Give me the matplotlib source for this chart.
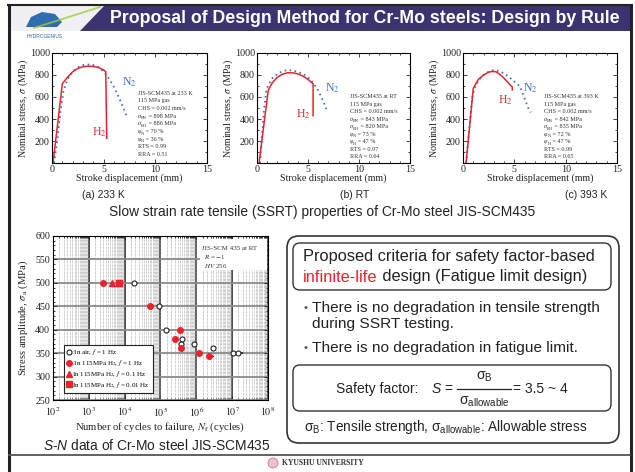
import numpy as np
import matplotlib
matplotlib.use("Agg")
import matplotlib.pyplot as plt
from matplotlib.patches import Rectangle, FancyBboxPatch, Polygon, Circle
from matplotlib.lines import Line2D
from matplotlib.ticker import MultipleLocator, LogLocator, NullFormatter

# ---- SSRT curves: stroke displacement (mm) vs nominal stress (MPa) ----
# (a) 233 K
h2_x_a = [0.1, 1.0, 1.5, 2.0, 2.5, 3.0, 3.5, 4.0, 4.5, 5.0, 5.2, 5.3]
h2_y_a = [0, 720, 780, 830, 860, 875, 880, 878, 868, 845, 830, 225]
n2_x_a = [0.2, 0.5, 0.8, 1.1, 1.5, 2.0, 2.5, 3.0, 3.5, 4.0, 4.5, 5.0, 5.5, 6.0, 6.5, 7.0, 7.2]
n2_y_a = [0, 200, 450, 650, 760, 830, 870, 890, 895, 890, 870, 830, 770, 690, 590, 480, 430]
# (b) RT
h2_x_b = [0.2, 1.1, 1.5, 2.0, 2.5, 3.0, 3.5, 4.0, 4.5, 5.0, 5.5, 5.5]
h2_y_b = [0, 660, 730, 780, 808, 820, 820, 810, 790, 760, 720, 430]
n2_x_b = [0.3, 0.5, 0.7, 0.9, 1.1, 1.5, 2.0, 2.5, 3.0, 3.5, 4.0, 4.5, 5.0, 5.5, 6.0, 6.5, 6.8]
n2_y_b = [0, 250, 500, 650, 710, 770, 810, 835, 845, 840, 830, 810, 780, 730, 660, 560, 490]
# (c) 393 K
h2_x_c = [0.3, 1.0, 1.5, 2.0, 2.5, 2.8, 3.2, 3.6, 4.0, 4.4, 4.8, 4.8]
h2_y_c = [0, 680, 760, 800, 825, 832, 830, 805, 770, 730, 690, 665]
n2_x_c = [0.3, 0.6, 0.9, 1.2, 1.6, 2.0, 2.5, 3.0, 3.5, 4.0, 4.5, 5.0, 5.5, 5.8, 6.1, 6.4, 6.6]
n2_y_c = [0, 300, 600, 700, 760, 800, 830, 845, 835, 815, 780, 740, 700, 640, 560, 490, 460]

temps = ["233 K", "RT", "393 K"]
captions = ["(a) 233 K", "(b) RT", "(c) 393 K"]
sigma_bn = [898, 843, 842]
sigma_bh = [886, 820, 835]
phi_n = [70, 73, 72]
phi_h = [36, 47, 47]
rts = [0.99, 0.97, 0.99]
rra = [0.51, 0.64, 0.65]

# ---- S-N data (cycles, stress amplitude MPa) ----
air_n = [1.86e4, 8.9e4, 1.39e5, 3.98e5, 3.81e5, 8.6e5, 2.9e6, 1.05e7, 1.45e7]
air_s = [500, 450, 400, 380, 370, 370, 360, 350, 350]
h2_1hz_n = [2.5e3, 5.1e4, 3.57e5, 2.54e5, 3.81e5, 1.16e6, 2.25e6]
h2_1hz_s = [500, 450, 400, 380, 360, 350, 343]
h2_01hz_n = [4.4e3]
h2_01hz_s = [500]
h2_001hz_n = [7.0e3]
h2_001hz_s = [500]
runout_n = [2.25e6, 1.05e7, 1.45e7]
runout_s = [343, 350, 350]

W, H = 635, 472
SANS = ["Liberation Sans", "DejaVu Sans"]
TXT = "#222222"
RED = "#e8232b"
BLUE = "#3c6fc0"

plt.rcParams["font.family"] = "serif"
plt.rcParams["font.serif"] = ["Liberation Serif", "DejaVu Serif"]
plt.rcParams["mathtext.fontset"] = "stix"
plt.rcParams["mathtext.rm"] = "Liberation Sans"
plt.rcParams["mathtext.it"] = "Liberation Sans:italic"
plt.rcParams["mathtext.bf"] = "Liberation Sans:bold"

fig = plt.figure(figsize=(W / 100, H / 100), dpi=100)
ax0 = fig.add_axes([0, 0, 1, 1])
ax0.set_xlim(0, W)
ax0.set_ylim(H, 0)
ax0.axis("off")


def px_axes(l, t, r, b):
    return fig.add_axes([l / W, 1 - b / H, (r - l) / W, (b - t) / H])


# ---- slide frame and title bar ----
ax0.plot([8.5, 8.5], [5, H], color="#222", lw=2.2)
ax0.plot([630.5, 630.5], [5, H], color="#222", lw=2.2)
ax0.plot([8, 631], [5, 5], color="#222", lw=1.5)
ax0.plot([9, 630], [455, 455], color="#555", lw=1.3)
ax0.add_patch(Rectangle((9, 6), 621, 25, fc="#3b3471", ec="none"))
ax0.add_patch(Polygon([(9, 6), (104, 6), (80, 31), (9, 31)], fc="#f0f0f4", ec="none"))
ax0.plot([34, 100], [28, 7], color="#9acd32", lw=1.3, alpha=0.8)
ax0.add_patch(Polygon([(26, 27), (31, 17), (42, 12), (55, 14), (62, 22), (57, 27)],
                      fc="#2f6db0", ec="none"))
ax0.text(45, 37, "HYDROGENIUS", family=SANS, size=3.5, color="#3060a0", ha="center", va="center")
ax0.text(365, 18.5, "Proposal of Design Method for Cr-Mo steels: Design by Rule",
         family=SANS, size=12.8, weight="bold", color="white", ha="center", va="center")

# ---- SSRT panels ----
panels = [
    ((52, 53, 207, 163), h2_x_a, h2_y_a, n2_x_a, n2_y_a, (8.3, 636, 70), (3.9, 282), (6.8, 736), 103),
    ((257, 53, 410, 163), h2_x_b, h2_y_b, n2_x_b, n2_y_b, (9.1, 600, 68), (3.8, 445), (6.7, 682), 355),
    ((463, 53, 617, 163), h2_x_c, h2_y_c, n2_x_c, n2_y_c, (7.9, 600, 68), (3.4, 570), (5.8, 680), 586),
]
sym_lines = []   # (axes, px width, symbol text, subscript text, rest text)
for i, (box, hx, hy, nx, ny, txy, hlab, nlab, cap_x) in enumerate(panels):
    l, t, r, b = box
    ax = px_axes(l, t, r, b)
    ax.plot(nx, ny, color=BLUE, lw=1.3, ls=(0, (0.9, 1.9)))
    ax.plot(hx, hy, color=RED, lw=1.1)
    ax.set_xlim(0, 15)
    ax.set_ylim(0, 1000)
    ax.set_xticks([0, 5, 10, 15])
    ax.set_yticks([200, 400, 600, 800, 1000])
    ax.xaxis.set_minor_locator(MultipleLocator(1))
    ax.yaxis.set_minor_locator(MultipleLocator(100))
    ax.tick_params(which="both", direction="in", top=True, right=True, labelsize=7.2,
                   pad=1.5, width=0.6, colors=TXT)
    ax.tick_params(which="major", length=3)
    ax.tick_params(which="minor", length=1.5)
    for sp in ax.spines.values():
        sp.set_linewidth(0.8)
    ax.set_xlabel("Stroke displacement (mm)", fontsize=7.2, color=TXT, va="center")
    ax.xaxis.set_label_coords(0.5, -15 / (b - t))
    ax.set_ylabel(r"Nominal stress, $\sigma$ (MPa)", fontsize=7.2, color=TXT, va="center")
    ax.yaxis.set_label_coords(-29 / (r - l), 0.5)
    ax.text(hlab[0], hlab[1], r"H$_2$", color=RED, fontsize=8.5, va="center")
    ax.text(nlab[0], nlab[1], r"N$_2$", color=BLUE, fontsize=8.5, va="center")

    # condition block: plain lines, symbols with a hand-placed subscript
    info = [("", "", "JIS-SCM435 at " + temps[i]), ("", "", "115 MPa gas"),
            ("", "", "CHS = 0.002 mm/s"),
            ("\u03c3", "BN", " = %d MPa" % sigma_bn[i]),
            ("\u03c3", "BH", " = %d MPa" % sigma_bh[i]),
            ("\u03c6", "N", " = %d %%" % phi_n[i]),
            ("\u03c6", "H", " = %d %%" % phi_h[i]),
            ("", "", "RTS = %.2f" % rts[i]), ("", "", "RRA = %.2f" % rra[i])]
    for k, (sym, sub, rest) in enumerate(info):
        y = txy[1] - k * txy[2]
        if not sym:
            ax.text(txy[0], y, rest, fontsize=4.4, color="#333", va="center")
            continue
        ts = ax.text(txy[0], y, sym, fontsize=4.4, style="italic", color="#333", va="center")
        tb = ax.text(txy[0], y - 18, sub, fontsize=3.1, color="#333", va="center")
        tr = ax.text(txy[0], y, rest, fontsize=4.4, color="#333", va="center")
        sym_lines.append((ax, r - l, txy[0], ts, tb, tr))
    ax0.text(cap_x, 195, captions[i], family=SANS, size=7.5, color=TXT, ha="center", va="center")

ax0.text(322, 212, "Slow strain rate tensile (SSRT) properties of Cr-Mo steel JIS-SCM435",
         family=SANS, size=9.9, color=TXT, ha="center", va="center")

# ---- S-N panel ----
l, t, r, b = 53, 236, 268, 400
ax = px_axes(l, t, r, b)
ax.set_xscale("log")
ax.set_xlim(1e2, 1e8)
ax.set_ylim(250, 600)
ax.set_yticks(np.arange(250, 601, 50))
ax.set_xticks([10.0 ** k for k in range(2, 9)])
ax.set_xticklabels([r"$10^{%d}$" % k for k in range(2, 9)])
ax.xaxis.set_minor_locator(LogLocator(base=10, subs=np.arange(1.5, 10, 0.5), numticks=100))
ax.xaxis.set_minor_formatter(NullFormatter())
ax.yaxis.set_minor_locator(MultipleLocator(10))
ax.grid(True, which="minor", axis="x", color="#999999", lw=0.5, ls=(0, (1, 1)))
ax.grid(True, which="major", axis="x", color="#4a4a4a", lw=1.4)
ax.grid(True, which="major", axis="y", color="#8a8a8a", lw=1.3)
ax.set_axisbelow(True)
ax.tick_params(which="both", direction="in", top=True, right=True, labelsize=7.2,
               pad=2, width=0.6, colors=TXT)
ax.tick_params(axis="x", which="both", pad=4)
ax.tick_params(which="major", length=3)
ax.tick_params(which="minor", length=1.5)
for sp in ax.spines.values():
    sp.set_linewidth(0.8)

ax.add_patch(Rectangle((0.685, 0.79), 0.31, 0.19, transform=ax.transAxes,
                       fc="white", ec="none", zorder=1))
ax.text(0.695, 0.925, "JIS-SCM 435 at RT", transform=ax.transAxes, fontsize=5, color="#333", va="center", zorder=2)
ax.text(0.70, 0.87, r"$R$ = $-$1", transform=ax.transAxes, fontsize=5, color="#333", va="center", zorder=2)
ax.text(0.70, 0.815, r"$HV$ 256", transform=ax.transAxes, fontsize=5, color="#333", va="center", zorder=2)

for n, s in zip(runout_n, runout_s):
    ax.annotate("", xy=(n * 1.65, s), xytext=(n * 1.1, s),
                arrowprops=dict(arrowstyle="-|>", color="#222", lw=0.8, mutation_scale=5), zorder=3)
ax.plot(air_n, air_s, "o", mfc="white", mec="#222", mew=0.8, ms=3.6, zorder=4)
ax.plot(h2_1hz_n, h2_1hz_s, "o", color=RED, ms=4, zorder=4)
ax.plot(h2_01hz_n, h2_01hz_s, "^", color=RED, ms=4, zorder=4)
ax.plot(h2_001hz_n, h2_001hz_s, "s", color=RED, ms=4, zorder=4)

handles = [Line2D([], [], marker="o", ls="none", mfc="white", mec="#222", mew=0.8, ms=3.6),
           Line2D([], [], marker="o", ls="none", color=RED, ms=4),
           Line2D([], [], marker="^", ls="none", color=RED, ms=4),
           Line2D([], [], marker="s", ls="none", color=RED, ms=4)]
labels = [r":In air, $f$ = 1 Hz", r":In 115MPa H$_2$, $f$ = 1 Hz",
          r"In 115MPa H$_2$, $f$ = 0.1 Hz", r"In 115MPa H$_2$, $f$ = 0.01 Hz"]
leg = ax.legend(handles, labels, loc="lower left", bbox_to_anchor=(0.05, 0.045),
                prop={"size": 5}, fancybox=False, edgecolor="#222", framealpha=1,
                borderpad=0.4, labelspacing=0.12, handlelength=0.7, handletextpad=0.15,
                borderaxespad=0)
leg.get_frame().set_linewidth(0.8)
leg.set_zorder(5)

ax.set_xlabel(r"Number of cycles to failure, $N_{\rm f}$ (cycles)", fontsize=7.7, color=TXT, va="center")
ax.xaxis.set_label_coords(0.5, -27 / (b - t))
ax.set_ylabel(r"Stress amplitude, $\sigma_{\rm a}$ (MPa)", fontsize=7.7, color=TXT, va="center")
ax.yaxis.set_label_coords(-30 / (r - l), 0.5)

ax0.text(157, 445, r"$S$-$N$ data of Cr-Mo steel JIS-SCM435", family=SANS, size=9.9,
         color=TXT, ha="center", va="center", math_fontfamily="custom")

# ---- right text box ----
ax0.add_patch(FancyBboxPatch((287, 236), 332, 207, boxstyle="round,pad=0,rounding_size=12",
                             fc="none", ec="#333", lw=1.2))
ax0.add_patch(FancyBboxPatch((293, 243), 318, 47, boxstyle="round,pad=0,rounding_size=7",
                             fc="none", ec="#333", lw=1.0))
ax0.add_patch(FancyBboxPatch((293, 365), 318, 46, boxstyle="round,pad=0,rounding_size=7",
                             fc="none", ec="#333", lw=1.0))

kw = dict(family=SANS, size=11.8, color=TXT, va="center", ha="left")
kwb = dict(kw, size=11.1)
ax0.text(303, 257, "Proposed criteria for safety factor-based", **kw)
t_red = ax0.text(303, 277, "infinite-life", **{**kw, "color": RED})
ax0.text(303, 308, "\u2022", family=SANS, size=8, color="#555", va="center")
ax0.text(312, 308, "There is no degradation in tensile strength", **kwb)
ax0.text(312, 324, "during SSRT testing.", **kwb)
ax0.text(303, 348, "\u2022", family=SANS, size=8, color="#555", va="center")
ax0.text(312, 348, "There is no degradation in fatigue limit.", **kwb)

kw2 = dict(family=SANS, size=10, color=TXT, va="center", math_fontfamily="custom")
s1 = ax0.text(0, 389, "Safety factor:", ha="left", **kw2)
s2 = ax0.text(0, 389, r"$S$ =", ha="left", **kw2)
num = ax0.text(0, 377, r"σ$_\mathrm{B}$", ha="center", **kw2)
den = ax0.text(0, 402, r"σ$_\mathrm{allowable}$", ha="center", **kw2)
s3 = ax0.text(0, 389, "= 3.5 ~ 4", ha="left", **kw2)
ax0.text(446, 427, r"σ$_\mathrm{B}$: Tensile strength, σ$_\mathrm{allowable}$: Allowable stress",
         ha="center", **{**kw2, "size": 9.8})

fig.canvas.draw()
rend = fig.canvas.get_renderer()


def wpx(txt):
    return txt.get_window_extent(rend).width


# place subscripts and the rest of each symbol line
for ax_i, span, x_left, ts, tb, tr in sym_lines:
    scale = 15.0 / span
    x_sub = x_left + wpx(ts) * scale
    tb.set_x(x_sub)
    tr.set_x(x_sub + wpx(tb) * scale)

ax0.text(303 + wpx(t_red), 277, " design (Fatigue limit design)", **kw)

w1, w2, wn, wd, w3 = wpx(s1), wpx(s2), wpx(num), wpx(den), wpx(s3)
bar = max(wn, wd) + 4
total = w1 + 13 + w2 + 3 + bar + 2 + w3
x = 452 - total / 2
s1.set_x(x)
x += w1 + 13
s2.set_x(x)
x += w2 + 3
ax0.plot([x, x + bar], [389, 389], color=TXT, lw=0.9)
num.set_x(x + bar / 2)
den.set_x(x + bar / 2)
x += bar + 2
s3.set_x(x)

# ---- footer ----
ax0.add_patch(Circle((273, 463), 5, fc="#efbfd0", ec="#c0668a", lw=0.5))
ax0.text(282, 463, "KYUSHU UNIVERSITY", size=5.5, weight="bold", color="#333", va="center")

fig.savefig("out.png", dpi=100)
